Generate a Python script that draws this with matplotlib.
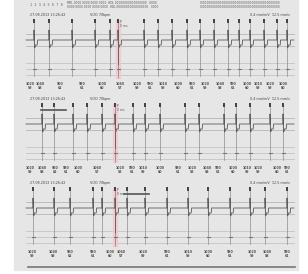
import matplotlib.pyplot as plt

# beat positions (pixel x) per strip
strip_beats = [
    [34, 49, 72, 95, 110, 118, 144, 158, 172, 187, 200, 214, 228, 239, 250, 264, 277, 287],
    [42, 54, 73, 87, 102, 115, 133, 145, 160, 185, 199, 224, 236, 250, 270, 283],
    [33, 54, 70, 93, 102, 115, 127, 145, 167, 188, 208, 230, 250, 265, 287],
]
# positions of the interval labels under each strip
label_x = [
    [30, 40, 60, 82, 102, 120, 137, 150, 163, 178, 192, 205, 220, 233, 247, 258, 270, 283],
    [30, 42, 55, 66, 78, 97, 120, 132, 143, 160, 178, 192, 207, 218, 233, 247, 258, 277, 287],
    [32, 53, 70, 93, 110, 121, 143, 167, 188, 208, 230, 252, 267, 287],
]
red_beat = [118, 115, 115]
strip_top = [15, 99, 183]
interval_top = ["1020", "1040", "960", "980", "1000", "1060", "1020", "990", "1010", "1000",
                "980", "1020", "1040", "990", "1000", "1010", "1020", "1000", "990"]
interval_bot = ["59", "58", "62", "61", "60", "57", "59", "61", "59", "60",
                "61", "59", "58", "61", "60", "59", "59", "60", "61"]
header_left = "27.08.2013 13:26:42"
header_mid = "VOO 70bpm"
header_right = "0.4 mm/mV  12.5 mm/s"
annot_x = [None, 41, 124]

# spike template (dx, dy) relative to beat position and baseline
spike_dx = [-2.0, 0.0, 0.0, 0.5, 1.2, 1.4, 3.2, 3.6, 5.0]
spike_dy = [0.0, 0.0, -10.0, 8.0, 7.0, 5.0, 5.0, 0.0, 0.0]

fig = plt.figure(figsize=(3.08, 2.74), dpi=100)
ax = fig.add_axes([0, 0, 1, 1])
ax.set_xlim(0, 308)
ax.set_ylim(274, 0)
ax.axis("off")

ax.add_patch(plt.Rectangle((14, 0), 284, 270, color="#e6e6e6", zorder=0))

# top line of tiny text
ax.text(30, 5, "1  2  3  4  5  6  7  8", fontsize=2.4, color="#666666", va="center")
ax.text(67, 3, "MRL 0000 0000 0000 0000  HDL 00000000000000000   0000", fontsize=2.1, color="#555555", va="center")
ax.text(67, 7, "0000 0000 0000 0000 0000  HDL 00000000000000000   0000", fontsize=2.1, color="#555555", va="center")
ax.text(200, 3, "0000000000000000000000000000000000000000000", fontsize=2.1, color="#555555", va="center")
ax.text(200, 7, "0000000000000000000000000000000000000000000", fontsize=2.1, color="#555555", va="center")

for s, beats in enumerate(strip_beats):
    top = strip_top[s]
    base = top + 25
    low = top + 54
    lab = top + 69
    ax.text(30, top, header_left, fontsize=2.4, color="#444444", va="center")
    ax.text(90, top, header_mid, fontsize=2.4, color="#444444", va="center")
    ax.text(290, top, header_right, fontsize=2.4, color="#444444", va="center", ha="right")
    # grid lines
    for dy in (-6, 6):
        ax.plot([26, 294], [base + dy, base + dy], color="#b5b5b5", lw=0.6, zorder=1)
    for dy in (-6, 0, 6):
        ax.plot([26, 294], [low + dy, low + dy], color="#bdbdbd", lw=0.5, zorder=1)
    # red highlight
    rx = red_beat[s]
    ax.add_patch(plt.Rectangle((rx - 2, top + 5), 4, 58, color="#f2c9cf", alpha=0.8, zorder=1))
    ax.plot([rx, rx], [top + 5, top + 63], color="#d98a96", lw=0.6, zorder=2)
    ax.text(rx + 2, top + 9, "P\n0 ms", fontsize=2.2, color="#555555", va="center")
    # trace
    xs = [26]
    ys = [base]
    for b in beats:
        for dx, dy in zip(spike_dx, spike_dy):
            xs.append(b + dx)
            ys.append(base + dy)
    xs.append(294)
    ys.append(base)
    ax.plot(xs, ys, color="#5a5a5a", lw=0.6, zorder=3)
    ax.plot([rx, rx], [base, base + 24], color="#666666", lw=0.7, zorder=3)
    for b in beats:
        ax.plot([b, b], [top + 5, low + 7], color="#8c8c8c", lw=0.5, zorder=2)
        ax.text(b, top + 6, "R", fontsize=2.2, color="#444444", ha="center", va="center",
                bbox=dict(boxstyle="square,pad=0.1", fc="#444444", ec="none"))
        ax.plot([b - 1.5, b + 1.5], [low, low], color="#777777", lw=0.8, zorder=3)
    for i, lx in enumerate(label_x[s]):
        ax.text(lx, lab, interval_top[i], fontsize=2.3, color="#505050",
                ha="center", va="center", fontweight="bold")
        ax.text(lx, lab + 4, interval_bot[i], fontsize=2.3, color="#505050",
                ha="center", va="center", fontweight="bold")
    if annot_x[s] is not None:
        ax.plot([annot_x[s], annot_x[s] + 25], [top + 11, top + 11], color="#555555", lw=1.2, zorder=4)

ax.plot([28, 295], [267, 267], color="#777777", lw=1.2)

fig.savefig("out.png", dpi=100)
